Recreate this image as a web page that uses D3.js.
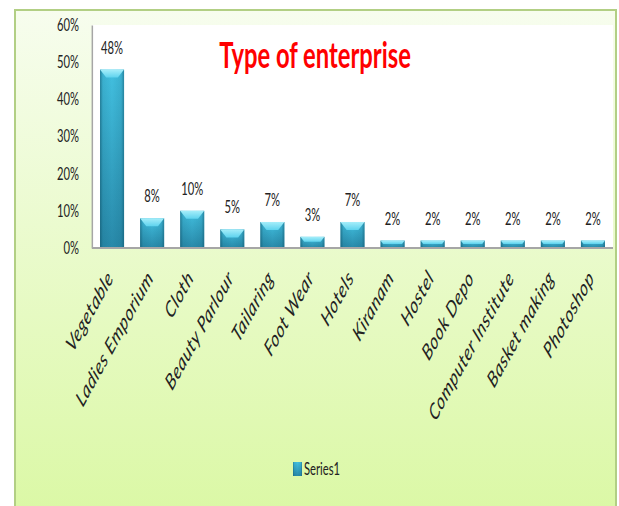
<!DOCTYPE html>
<html><head><meta charset="utf-8">
<script src="https://cdn.jsdelivr.net/npm/d3@7"></script>
<style>html,body{margin:0;padding:0;background:#fff;}svg{display:block}</style>
</head><body>
<svg id="chart" width="619" height="506"></svg>
<script>
// Share of each enterprise type
const categories = ["Vegetable", "Ladies Emporium", "Cloth", "Beauty Parlour", "Tailaring", "Foot Wear", "Hotels", "Kiranam", "Hostel", "Book Depo", "Computer Institute", "Basket making", "Photoshop"];
const shares = [0.48, 0.08, 0.10, 0.05, 0.07, 0.03, 0.07, 0.02, 0.02, 0.02, 0.02, 0.02, 0.02];
const yTicks = [0, 0.1, 0.2, 0.3, 0.4, 0.5, 0.6];
const seriesName = "Series1";
const chartTitle = "Type of enterprise";

const W = 619, H = 506;
const SX = 0.66;            // the drawing is laid out wide, then compressed horizontally
const FONT = "Lato, 'Open Sans', sans-serif";

const svg = d3.select("#chart");
const defs = svg.append("defs");

const bg = defs.append("linearGradient").attr("id", "bgGrad").attr("x1", 0).attr("y1", 0).attr("x2", 0).attr("y2", 1);
bg.append("stop").attr("offset", "0%").attr("stop-color", "#f7fdee");
bg.append("stop").attr("offset", "100%").attr("stop-color", "#daf8a3");

const body = defs.append("linearGradient").attr("id", "barBody").attr("x1", 0).attr("y1", 0).attr("x2", 0).attr("y2", 1);
body.append("stop").attr("offset", "0%").attr("stop-color", "#42c0e0");
body.append("stop").attr("offset", "100%").attr("stop-color", "#2889a9");

const shade = defs.append("linearGradient").attr("id", "barShade").attr("x1", 0).attr("y1", 0).attr("x2", 1).attr("y2", 0);
shade.append("stop").attr("offset", "0%").attr("stop-color", "#0b4a60").attr("stop-opacity", 0.55);
shade.append("stop").attr("offset", "12%").attr("stop-color", "#0b4a60").attr("stop-opacity", 0.12);
shade.append("stop").attr("offset", "50%").attr("stop-color", "#0b4a60").attr("stop-opacity", 0);
shade.append("stop").attr("offset", "88%").attr("stop-color", "#0b4a60").attr("stop-opacity", 0.12);
shade.append("stop").attr("offset", "100%").attr("stop-color", "#0b4a60").attr("stop-opacity", 0.5);

const cap = defs.append("linearGradient").attr("id", "barCap").attr("x1", 0).attr("y1", 0).attr("x2", 0).attr("y2", 1);
cap.append("stop").attr("offset", "0%").attr("stop-color", "#a6eefa");
cap.append("stop").attr("offset", "100%").attr("stop-color", "#5ed3ee");

const root = svg.append("g").attr("transform", `scale(${SX},1)`);

const frame = { left: 15 / SX, top: 10, right: 616 / SX, bottom: 530 };
const plot = { left: 92 / SX, right: 613 / SX, top: 25, bottom: 248 };

// chart area
root.append("rect")
  .attr("x", frame.left).attr("y", frame.top)
  .attr("width", frame.right - frame.left).attr("height", frame.bottom - frame.top)
  .attr("fill", "url(#bgGrad)").attr("stroke", "#b2cf84").attr("stroke-width", 2)
  .attr("vector-effect", "non-scaling-stroke");

// plot area
root.append("rect")
  .attr("x", plot.left).attr("y", plot.top)
  .attr("width", plot.right - plot.left).attr("height", plot.bottom - plot.top)
  .attr("fill", "#ffffff");

const x = d3.scaleBand().domain(categories).range([plot.left, plot.right]).paddingInner(0.4).paddingOuter(0.2);
const y = d3.scaleLinear().domain([0, 0.6]).range([plot.bottom, plot.top]);

// y axis labels
const yAxis = d3.axisLeft(y).tickValues(yTicks).tickFormat(d3.format(".0%")).tickSize(0).tickPadding(13 / SX);
const gy = root.append("g").attr("transform", `translate(${plot.left},0)`).call(yAxis);
gy.select(".domain").attr("stroke", "#a6a6a6").attr("stroke-width", 1.5).attr("vector-effect", "non-scaling-stroke");
gy.selectAll("text").attr("font-family", FONT).attr("font-size", 17).attr("fill", "#222");

// bars
const bars = root.append("g").selectAll("g").data(categories).join("g");
bars.append("rect")
  .attr("x", d => x(d)).attr("y", (d, i) => y(shares[i]))
  .attr("width", x.bandwidth()).attr("height", (d, i) => y(0) - y(shares[i]))
  .attr("fill", "url(#barBody)");
bars.append("rect")
  .attr("x", d => x(d)).attr("y", (d, i) => y(shares[i]))
  .attr("width", x.bandwidth()).attr("height", (d, i) => y(0) - y(shares[i]))
  .attr("fill", "url(#barShade)");
bars.append("path")
  .attr("fill", "url(#barCap)")
  .attr("d", (d, i) => {
    const x0 = x(d), x1 = x0 + x.bandwidth(), top = y(shares[i]);
    const depth = Math.min(8, (y(0) - top) * 0.45);
    const inset = depth * 1.1 / SX * 0.7;
    return `M${x0},${top}L${x1},${top}L${x1 - inset},${top + depth}L${x0 + inset},${top + depth}Z`;
  });

// x axis line
root.append("line")
  .attr("x1", plot.left).attr("x2", plot.right).attr("y1", plot.bottom).attr("y2", plot.bottom)
  .attr("stroke", "#a6a6a6").attr("stroke-width", 2).attr("vector-effect", "non-scaling-stroke");

// value labels
root.append("g").selectAll("text").data(categories).join("text")
  .attr("x", d => x(d) + x.bandwidth() / 2)
  .attr("y", (d, i) => y(shares[i]) - 16)
  .attr("text-anchor", "middle")
  .attr("font-family", FONT).attr("font-size", 17).attr("fill", "#222")
  .text((d, i) => d3.format(".0%")(shares[i]));

// category labels
root.append("g").selectAll("text").data(categories).join("text")
  .attr("transform", d => `translate(${x(d) + x.bandwidth() / 2 + 2 / SX},${plot.bottom + 31}) rotate(-50)`)
  .attr("text-anchor", "end")
  .attr("font-family", FONT).attr("font-style", "italic").attr("font-size", 22.5)
  .attr("letter-spacing", 0.6).attr("fill", "#222")
  .text(d => d);

// title
root.append("text")
  .attr("x", 315 / SX).attr("y", 68)
  .attr("text-anchor", "middle")
  .attr("font-family", FONT).attr("font-weight", "bold").attr("font-size", 36).attr("fill", "#ff0000")
  .text(chartTitle);

// legend
const lg = root.append("g").attr("transform", `translate(${293 / SX},462)`);
lg.append("rect").attr("width", 9 / SX).attr("height", 14).attr("fill", "url(#barBody)");
lg.append("rect").attr("width", 9 / SX).attr("height", 14).attr("fill", "url(#barShade)");
lg.append("text").attr("x", 11 / SX).attr("y", 7).attr("dy", "0.35em")
  .attr("font-family", FONT).attr("font-size", 17).attr("fill", "#222")
  .text(seriesName);
</script>
</body></html>
